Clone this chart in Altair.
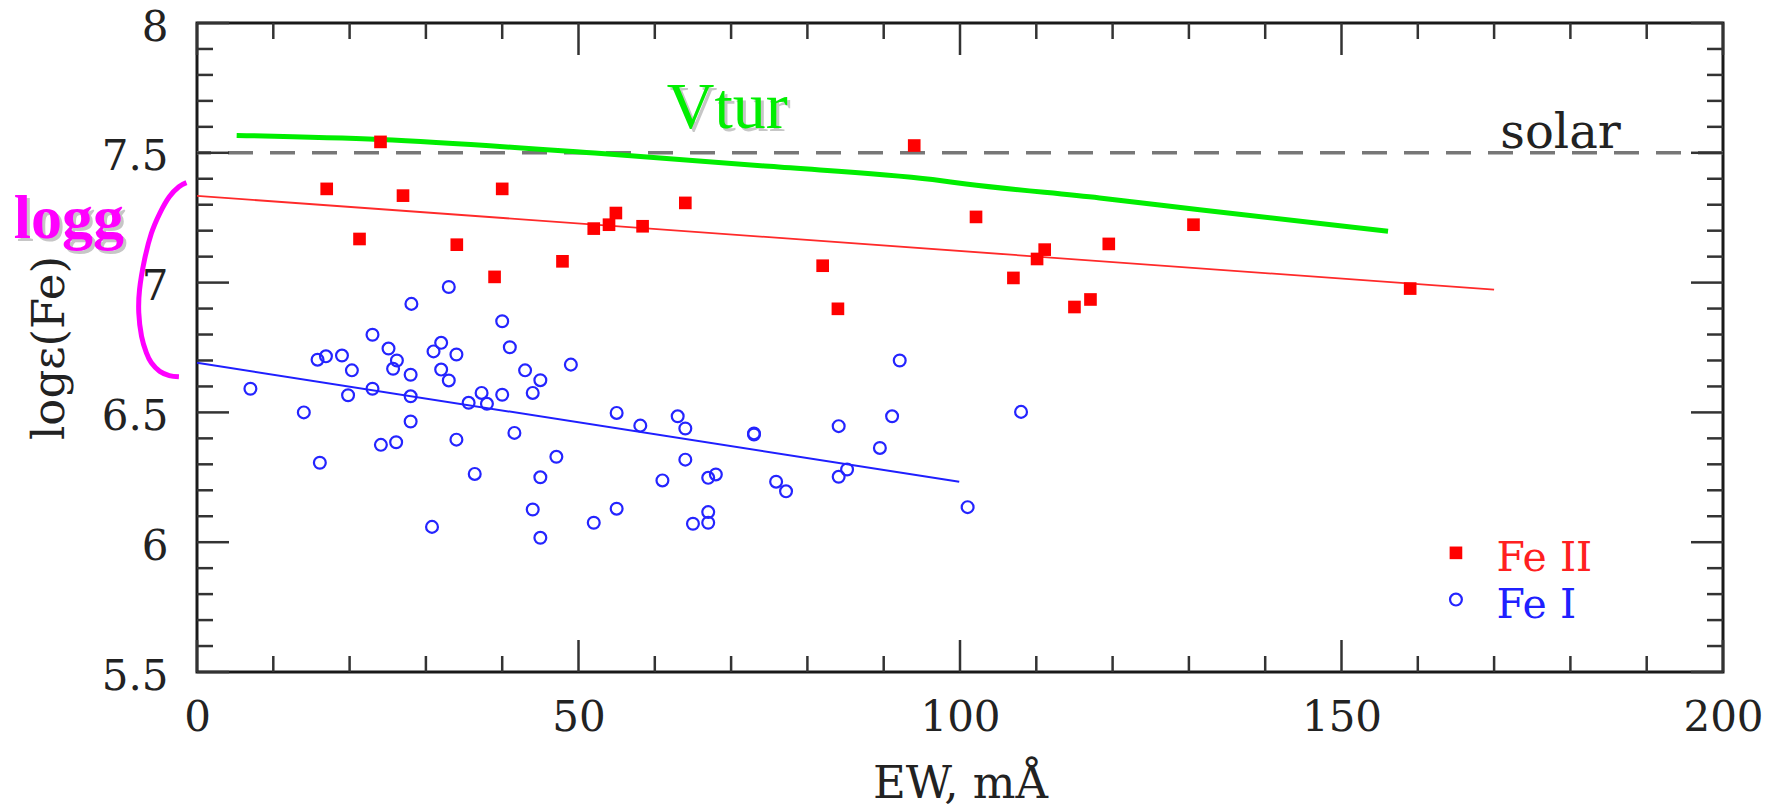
import altair as alt
import pandas as pd

# ---------------- data ----------------
fe2_ew = [17.0, 24.05, 27.0, 21.3, 34.05, 39.0, 40.0, 47.9, 52.0, 54.0, 54.9, 58.4, 64.0,
          82.0, 84.0, 94.0, 102.1, 107.0, 110.1, 111.1, 115.0, 117.1, 119.5, 130.6, 159.0]
fe2_loge = [7.361, 7.542, 7.335, 7.168, 7.146, 7.022, 7.361, 7.082, 7.208, 7.223, 7.268, 7.217, 7.307,
            7.065, 6.899, 7.528, 7.253, 7.018, 7.091, 7.127, 6.906, 6.935, 7.149, 7.223, 6.977]

fe1_ew = [33.0, 28.1, 40.0, 23.0, 41.0, 25.1, 32.0, 31.0, 34.0, 15.8, 16.9, 19.0, 26.2, 25.7,
          20.3, 28.0, 32.0, 33.0, 43.0, 7.0, 23.0, 19.8, 28.0, 37.3, 40.0, 35.6, 38.0, 14.0,
          28.0, 41.6, 26.1, 24.1, 34.0, 16.1, 36.4, 30.8,
          45.0, 44.0, 49.0, 47.1, 45.0, 44.0, 45.0, 52.0, 55.0, 55.0, 58.1, 63.0, 64.0, 73.0,
          73.0, 64.0, 61.0, 67.0, 68.0, 75.9, 77.2, 65.0, 67.0, 67.0,
          92.1, 91.1, 84.1, 89.5, 85.2, 84.1, 101.0, 108.0]
fe1_loge = [6.983, 6.918, 6.851, 6.799, 6.751, 6.746, 6.768, 6.735, 6.723, 6.703, 6.716, 6.719, 6.700, 6.668,
            6.662, 6.645, 6.665, 6.623, 6.662, 6.591, 6.591, 6.566, 6.562, 6.575, 6.568, 6.537, 6.533, 6.500,
            6.465, 6.421, 6.385, 6.375, 6.395, 6.306, 6.263, 6.059,
            6.624, 6.575, 6.684, 6.329, 6.250, 6.126, 6.017, 6.075, 6.129, 6.498, 6.449, 6.485, 6.438, 6.419,
            6.415, 6.318, 6.238, 6.248, 6.261, 6.233, 6.196, 6.071, 6.116, 6.075,
            6.700, 6.485, 6.447, 6.363, 6.280, 6.252, 6.135, 6.502]

fe2_fit_ew = [0.0, 170.0]
fe2_fit_loge = [7.334, 6.973]
fe1_fit_ew = [0.0, 99.9]
fe1_fit_loge = [6.691, 6.233]

vtur_ew = [5.2, 24.0, 53.0, 75.0, 96.4, 100.8, 118.3, 131.4, 156.1]
vtur_loge = [7.567, 7.551, 7.497, 7.448, 7.397, 7.380, 7.326, 7.281, 7.198]

solar_loge = [7.5]

# magenta "(" bracket next to the logg label (data units)
bracket_ew = [-1.38, -2.37, -3.63, -4.88, -5.98, -6.88, -7.53, -7.63, -7.27, -6.63, -5.98, -4.88, -3.63, -2.37]
bracket_loge = [7.385, 7.369, 7.331, 7.267, 7.190, 7.088, 6.973, 6.883, 6.793, 6.729, 6.691, 6.658, 6.642, 6.637]

x_major = [0, 50, 100, 150, 200]
x_minor = [10, 20, 30, 40, 60, 70, 80, 90, 110, 120, 130, 140, 160, 170, 180, 190]
y_major = [5.5, 6.0, 6.5, 7.0, 7.5, 8.0]
y_minor = [5.6, 5.7, 5.8, 5.9, 6.1, 6.2, 6.3, 6.4, 6.6, 6.7, 6.8, 6.9,
           7.1, 7.2, 7.3, 7.4, 7.6, 7.7, 7.8, 7.9]

# annotation texts and anchor positions (data units)
ann_vtur = {"t": ["Vtur"], "ew": [69.5], "loge": [7.597]}
ann_solar = {"t": ["solar"], "ew": [178.7], "loge": [7.519]}
ann_logg = {"t": ["logg"], "ew": [-16.8], "loge": [7.173]}
leg_marker_ew = [165.0]
leg_fe2_loge = [5.959]
leg_fe1_loge = [5.779]
leg_text_ew = [170.3]
leg_fe2_text_loge = [5.888]
leg_fe1_text_loge = [5.709]

# ---------------- chart ----------------
W, H = 1526, 649
SERIF = "DejaVu Serif"
xs = alt.Scale(domain=[0, 200], nice=False, zero=False)
ys = alt.Scale(domain=[5.5, 8], nice=False, zero=False)

x_axis = alt.Axis(values=x_major, format="d", ticks=False, tickSize=0, domain=False, grid=False,
                  labelFont=SERIF, labelFontSize=42, labelColor="#222", labelPadding=25,
                  labelFlush=False, labelOverlap=False,
                  title="EW, mÅ", titleFont=SERIF, titleFontSize=45, titleFontWeight="normal",
                  titleColor="#222", titleBaseline="alphabetic", titleY=125)
y_axis = alt.Axis(values=y_major, labelExpr="datum.value + ''", ticks=False, tickSize=0, domain=False,
                  grid=False, labelFont=SERIF, labelFontSize=42, labelColor="#222", labelPadding=29,
                  labelFlush=False, labelOverlap=False, labelOffset=4,
                  title="logε(Fe)", titleFont=SERIF, titleFontSize=45, titleFontWeight="normal",
                  titleColor="#222", titleAngle=270, titleBaseline="alphabetic", titleAlign="center",
                  titleX=-134, titleY=H / 2)


def X(f):
    return alt.X(f, type="quantitative", scale=xs, axis=x_axis)


def Y(f):
    return alt.Y(f, type="quantitative", scale=ys, axis=y_axis)


df1 = pd.DataFrame({"ew": fe1_ew, "loge": fe1_loge})
df2 = pd.DataFrame({"ew": fe2_ew, "loge": fe2_loge})

fe1_pts = alt.Chart(df1).mark_point(shape="circle", filled=False, size=140, strokeWidth=2.2,
                                    color="#2424ff", opacity=1).encode(x=X("ew"), y=Y("loge"))
fe2_pts = alt.Chart(df2).mark_square(size=160, color="#ff0000", opacity=1).encode(x=X("ew"), y=Y("loge"))

fe2_fit = alt.Chart(pd.DataFrame({"ew": fe2_fit_ew, "loge": fe2_fit_loge})).mark_line(
    color="#ff2a2a", strokeWidth=1.8).encode(x=X("ew"), y=Y("loge"))
fe1_fit = alt.Chart(pd.DataFrame({"ew": fe1_fit_ew, "loge": fe1_fit_loge})).mark_line(
    color="#1f1fff", strokeWidth=2).encode(x=X("ew"), y=Y("loge"))
vtur = alt.Chart(pd.DataFrame({"ew": vtur_ew, "loge": vtur_loge})).mark_line(
    color="#00ee00", strokeWidth=5, interpolate="monotone").encode(x=X("ew"), y=Y("loge"))
solar = alt.Chart(pd.DataFrame({"loge": solar_loge})).mark_rule(
    color="#777777", strokeWidth=3.5, strokeDash=[25, 17]).encode(y=Y("loge"))

bracket = alt.Chart(pd.DataFrame({"ew": bracket_ew, "loge": bracket_loge,
                                  "i": list(range(len(bracket_ew)))})).mark_line(
    color="#ff00ff", strokeWidth=5, interpolate="cardinal", clip=False).encode(
    x=X("ew"), y=Y("loge"), order="i:Q")

TICK = dict(color="#333333", strokeWidth=2.5)


def xticks(vals, L):
    d = alt.Chart(pd.DataFrame({"ew": vals})).mark_rule(**TICK)
    return [d.encode(x=X("ew"), y=alt.value(H), y2=alt.value(H - L)),
            d.encode(x=X("ew"), y=alt.value(0), y2=alt.value(L))]


def yticks(vals, L):
    d = alt.Chart(pd.DataFrame({"loge": vals})).mark_rule(**TICK)
    return [d.encode(y=Y("loge"), x=alt.value(0), x2=alt.value(L)),
            d.encode(y=Y("loge"), x=alt.value(W), x2=alt.value(W - L))]


ticks = xticks(x_major, 32) + xticks(x_minor, 16) + yticks(y_major, 32) + yticks(y_minor, 16)


def text_layer(d, color, font, size, weight="normal", align="center", dx=0, dy=0, opacity=1.0):
    return alt.Chart(pd.DataFrame(d)).mark_text(
        color=color, font=font, fontSize=size, fontWeight=weight, align=align,
        baseline="alphabetic", dx=dx, dy=dy, opacity=opacity, clip=False).encode(
        x=X("ew"), y=Y("loge"), text="t:N")


vtur_shadow = text_layer(ann_vtur, "#444444", "Liberation Serif", 66, dx=3, dy=3, opacity=0.3)
vtur_text = text_layer(ann_vtur, "#00ee00", "Liberation Serif", 66)
logg_shadow = text_layer(ann_logg, "#444444", "Liberation Serif", 62, weight="bold", dx=3, dy=3, opacity=0.3)
logg_text = text_layer(ann_logg, "#ff00ff", "Liberation Serif", 62, weight="bold")
solar_text = text_layer(ann_solar, "#222222", SERIF, 48)

leg_sq = alt.Chart(pd.DataFrame({"ew": leg_marker_ew, "loge": leg_fe2_loge})).mark_square(
    size=160, color="#ff0000", opacity=1).encode(x=X("ew"), y=Y("loge"))
leg_ci = alt.Chart(pd.DataFrame({"ew": leg_marker_ew, "loge": leg_fe1_loge})).mark_point(
    shape="circle", filled=False, size=140, strokeWidth=2.2, color="#2424ff", opacity=1).encode(
    x=X("ew"), y=Y("loge"))
leg_t2 = text_layer({"t": ["Fe II"], "ew": leg_text_ew, "loge": leg_fe2_text_loge}, "#ff2020", SERIF, 41,
                    align="left")
leg_t1 = text_layer({"t": ["Fe I"], "ew": leg_text_ew, "loge": leg_fe1_text_loge}, "#2020ff", SERIF, 41,
                    align="left")

chart = alt.layer(
    fe1_pts, solar, vtur, fe2_fit, fe1_fit, fe2_pts, *ticks, bracket,
    vtur_shadow, vtur_text, logg_shadow, logg_text, solar_text,
    leg_sq, leg_ci, leg_t2, leg_t1,
).properties(
    width=W, height=H,
    padding={"left": 197, "top": 23, "right": 58, "bottom": 137},
    autosize=alt.AutoSizeParams(type="none"),
    background="white",
).configure_view(stroke="#1a1a1a", strokeWidth=3)

chart.save("out.html", embed_options={"renderer": "svg", "actions": False})
